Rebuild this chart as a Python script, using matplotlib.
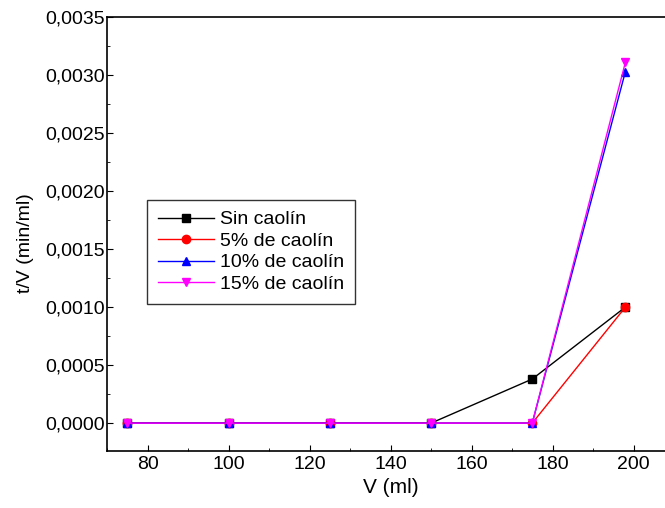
import matplotlib.pyplot as plt
from matplotlib.ticker import MultipleLocator, FuncFormatter

plt.rcParams['font.family'] = ['Liberation Sans', 'DejaVu Sans']

# data
volumen = [75, 100, 125, 150, 175, 198]
sin_caolin = [0, 0, 0, 0, 0.00038, 0.0010]
caolin_5 = [0, 0, 0, 0, 0, 0.0010]
caolin_10 = [0, 0, 0, 0, 0, 0.00303]
caolin_15 = [0, 0, 0, 0, 0, 0.00311]

series = [
    ("Sin caolín", sin_caolin, "black", "s"),
    ("5% de caolín", caolin_5, "red", "o"),
    ("10% de caolín", caolin_10, "blue", "^"),
    ("15% de caolín", caolin_15, "magenta", "v"),
]

fig = plt.figure(figsize=(6.65, 5.08), dpi=100)
ax = fig.add_axes([107 / 665, 57 / 508, 567 / 665, 434 / 508])

for label, vals, col, mk in series:
    ax.plot(volumen, vals, color=col, marker=mk, markersize=6, linewidth=1,
            label=label)

ax.set_xlim(70, 210)
ax.set_ylim(-0.00024, 0.0035)
ax.xaxis.set_major_locator(MultipleLocator(20))
ax.xaxis.set_minor_locator(MultipleLocator(10))
ax.yaxis.set_major_locator(MultipleLocator(0.0005))
ax.yaxis.set_minor_locator(MultipleLocator(0.00025))
ax.yaxis.set_major_formatter(FuncFormatter(lambda v, p: f"{abs(v):.4f}".replace(".", ",")))
ax.tick_params(which="both", direction="in", labelsize=14)
ax.tick_params(which="major", length=4)
ax.tick_params(axis="y", which="major", pad=1.5)
ax.tick_params(which="minor", length=2)
for s in ax.spines.values():
    s.set_linewidth(1.2)

ax.set_xlabel("V (ml)", fontsize=15, labelpad=4)
ax.set_ylabel("t/V (min/ml)", fontsize=14)
ax.yaxis.set_label_coords(-0.128, 0.48)

leg = ax.legend(loc="upper left", bbox_to_anchor=(0.0705, 0.578), borderaxespad=0,
                fontsize=14, frameon=True, fancybox=False, handlelength=2.9,
                labelspacing=0.2, borderpad=0.55, handletextpad=0.3)
leg.get_frame().set_edgecolor("black")
leg.get_frame().set_linewidth(1)

fig.savefig("out.png", dpi=100)
